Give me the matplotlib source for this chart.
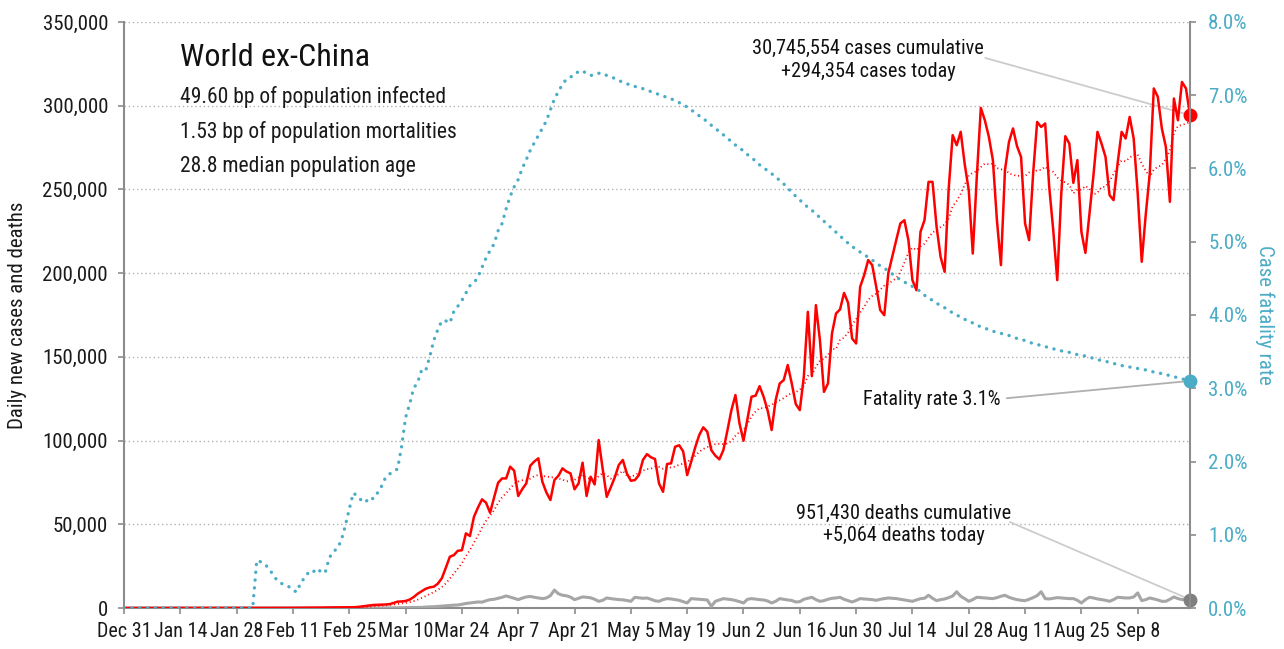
import pandas as pd
import matplotlib
matplotlib.use('Agg')
import matplotlib.pyplot as plt
from matplotlib.ticker import FuncFormatter, MultipleLocator

# narrow fonts first, whichever is installed gets used
plt.rcParams['font.family'] = ['Roboto Condensed', 'Liberation Sans Narrow', 'Roboto', 'DejaVu Sans']

# daily series, one value per day starting Dec 31
start_date = '2019-12-31'

daily_cases = [
    0, 0, 0, 0, 0, 0, 0, 0, 0, 0,
    0, 0, 0, 1, 1, 1, 1, 2, 2, 2,
    3, 4, 6, 10, 12, 15, 20, 25, 30, 35,
    40, 45, 50, 40, 35, 30, 30, 40, 50, 60,
    70, 80, 90, 100, 110, 120, 130, 150, 180, 220,
    280, 320, 350, 360, 380, 390, 400, 450, 600, 900,
    1200, 1500, 1800, 1900, 2000, 2100, 2300, 3000, 3800, 3900,
    4200, 5000, 6500, 8500, 10000, 11500, 12300, 12700, 14500, 17700,
    24000, 30600, 31600, 34200, 34500, 44600, 43000, 54500, 60000, 64900,
    62900, 56900, 66000, 74800, 77400, 77400, 84400, 82000, 66900, 71000,
    74400, 85000, 87500, 89400, 75400, 69000, 64500, 76400, 79000, 83400,
    81500, 80400, 70900, 74400, 86800, 66900, 78400, 73800, 100300, 83000,
    66400, 72000, 78000, 85400, 88400, 80400, 76000, 76400, 79400, 88400,
    91900, 90000, 89000, 74400, 69400, 86000, 86400, 96300, 97200, 93600,
    79400, 87400, 96000, 103300, 107900, 105300, 94300, 91000, 88800, 94300,
    106000, 118200, 127200, 110300, 99900, 113000, 126200, 126800, 132500, 126200,
    118000, 106300, 124200, 134100, 136100, 145100, 134100, 121800, 118200, 138100,
    176900, 138500, 180900, 160000, 129100, 134100, 164000, 175900, 178300, 188200,
    182300, 161000, 158000, 191800, 198800, 207800, 204800, 191800, 177900, 174900,
    200000, 210000, 220000, 229700, 231600, 219700, 195800, 189800, 224700, 231600,
    254500, 254500, 227700, 209700, 200800, 250000, 282400, 276400, 284400, 265000,
    249500, 211700, 257500, 298700, 291300, 281400, 267500, 231600, 204800, 261500,
    278400, 286400, 275800, 269400, 229700, 219700, 259500, 290300, 287300, 289400,
    251500, 225700, 195800, 247600, 281800, 277400, 253900, 267500, 224700, 212100,
    235000, 258500, 284400, 277400, 269400, 246600, 243600, 265500, 284400, 280400,
    293300, 280400, 247600, 206800, 235000, 259500, 310300, 305300, 286400, 275400,
    242600, 304300, 291300, 314200, 310300, 294354,
]

daily_deaths = [
    0, 0, 0, 0, 0, 0, 0, 0, 0, 0,
    0, 0, 0, 0, 0, 0, 0, 0, 0, 0,
    0, 0, 0, 0, 0, 0, 0, 0, 0, 0,
    0, 0, 0, 1, 0, 0, 0, 0, 0, 1,
    0, 1, 0, 1, 1, 2, 2, 3, 3, 4,
    4, 5, 6, 7, 8, 9, 10, 15, 12, 20,
    18, 25, 30, 40, 50, 60, 80, 100, 130, 180,
    200, 250, 330, 400, 380, 550, 700, 750, 950, 1100,
    1300, 1500, 1700, 1800, 2200, 2700, 3000, 3300, 3600, 3500,
    4300, 5000, 5200, 5800, 6400, 7200, 6500, 5800, 5000, 5900,
    6600, 6900, 6400, 6000, 5600, 6000, 7400, 10700, 8500, 7600,
    7300, 6500, 5000, 5800, 6600, 6400, 6100, 5200, 4000, 4600,
    6000, 5600, 5300, 5000, 4900, 4500, 4000, 6400, 6100, 5800,
    6000, 5200, 4300, 4000, 5000, 5600, 5400, 5000, 4600, 3800,
    3000, 5600, 5400, 5200, 5000, 4800, 1000, 4000, 4800, 5600,
    5300, 5000, 4500, 3800, 3000, 5200, 5600, 5300, 5000, 4800,
    4200, 3000, 4000, 5600, 5200, 4800, 4500, 3600, 3800, 5200,
    5800, 6400, 5000, 4000, 4400, 5200, 5800, 6000, 6400, 5200,
    4400, 3600, 4500, 5600, 5400, 5200, 5000, 4600, 5200, 5600,
    6000, 5800, 5600, 5200, 4800, 4400, 4000, 4800, 5600, 5800,
    7600, 5800, 4400, 5000, 5400, 6200, 7200, 9700, 7000, 5600,
    4000, 5000, 6400, 6200, 6000, 5800, 5600, 6200, 7000, 7600,
    6400, 5600, 5000, 4600, 4400, 5200, 6200, 7400, 9700, 5600,
    5400, 5800, 6200, 6000, 5800, 5600, 5600, 4600, 3000, 5000,
    6400, 6000, 5400, 5000, 4600, 4000, 5000, 6400, 6200, 6000,
    6000, 6600, 9000, 4400, 5000, 6000, 5400, 4800, 4000, 4000,
    5200, 6600, 5600, 5000, 5200, 5064,
]

# case fatality rate, percent
fatality_rate = [
    0, 0, 0, 0, 0, 0, 0, 0, 0, 0,
    0, 0, 0, 0, 0, 0, 0, 0, 0, 0,
    0, 0, 0, 0, 0, 0, 0, 0, 0, 0,
    0, 0, 0, 0.65, 0.63, 0.60, 0.54, 0.46, 0.38, 0.34,
    0.31, 0.29, 0.24, 0.22, 0.36, 0.41, 0.50, 0.49, 0.54, 0.49,
    0.48, 0.68, 0.77, 0.81, 0.92, 1.12, 1.35, 1.57, 1.53, 1.47,
    1.44, 1.51, 1.49, 1.57, 1.66, 1.78, 1.83, 1.86, 1.90, 2.20,
    2.60, 2.78, 3.00, 3.08, 3.25, 3.24, 3.43, 3.65, 3.80, 3.92,
    3.92, 3.89, 4.05, 4.12, 4.20, 4.30, 4.40, 4.44, 4.52, 4.65,
    4.78, 4.88, 4.97, 5.15, 5.25, 5.45, 5.62, 5.75, 5.85, 6.00,
    6.12, 6.25, 6.35, 6.45, 6.55, 6.65, 6.80, 6.95, 7.05, 7.15,
    7.22, 7.25, 7.27, 7.33, 7.33, 7.30, 7.27, 7.28, 7.30, 7.30,
    7.27, 7.25, 7.23, 7.20, 7.18, 7.16, 7.13, 7.12, 7.11, 7.09,
    7.07, 7.05, 7.03, 7.01, 6.99, 6.97, 6.95, 6.93, 6.90, 6.87,
    6.84, 6.80, 6.76, 6.72, 6.68, 6.64, 6.59, 6.55, 6.50, 6.46,
    6.41, 6.37, 6.32, 6.28, 6.24, 6.19, 6.15, 6.10, 6.05, 6.01,
    5.97, 5.93, 5.88, 5.84, 5.79, 5.73, 5.68, 5.62, 5.57, 5.52,
    5.47, 5.43, 5.38, 5.33, 5.28, 5.23, 5.18, 5.13, 5.08, 5.03,
    4.98, 4.94, 4.89, 4.86, 4.82, 4.79, 4.75, 4.71, 4.67, 4.64,
    4.60, 4.56, 4.52, 4.48, 4.45, 4.42, 4.39, 4.36, 4.32, 4.27,
    4.23, 4.20, 4.16, 4.13, 4.10, 4.06, 4.03, 4.00, 3.97, 3.94,
    3.92, 3.89, 3.86, 3.84, 3.82, 3.80, 3.78, 3.76, 3.75, 3.73,
    3.72, 3.70, 3.68, 3.67, 3.65, 3.63, 3.61, 3.60, 3.58, 3.57,
    3.55, 3.54, 3.52, 3.51, 3.50, 3.49, 3.47, 3.46, 3.45, 3.44,
    3.42, 3.41, 3.39, 3.38, 3.37, 3.35, 3.34, 3.32, 3.31, 3.30,
    3.29, 3.28, 3.27, 3.26, 3.25, 3.24, 3.22, 3.21, 3.20, 3.19,
    3.17, 3.16, 3.14, 3.13, 3.11, 3.10,
]

title_text = 'World ex-China'
info_lines = ['49.60 bp of population infected',
              '1.53 bp of population mortalities',
              '28.8 median population age']
cases_note = '30,745,554 cases cumulative\n+294,354 cases today'
deaths_note = '951,430 deaths cumulative\n+5,064 deaths today'
rate_note = 'Fatality rate 3.1%'

RED = '#ff0000'
GREY = '#a6a6a6'
BLUE = '#4bacc6'
AXIS = '#8c8c8c'
INK = '#1a1a1a'
FS = 15

dates = pd.date_range(start_date, periods=len(daily_cases), freq='D')
cases = pd.Series(daily_cases, index=dates)
deaths = pd.Series(daily_deaths, index=dates)
cfr = pd.Series(fatality_rate, index=dates)
avg7 = cases.rolling(7, min_periods=1).mean()

fig = plt.figure(figsize=(12.84, 6.49), dpi=100)
ax = fig.add_axes([124 / 1284, 41 / 649, 1066 / 1284, 586 / 649])
ax2 = ax.twinx()

# left axis: cases and deaths
ax.plot(dates, deaths, color=GREY, lw=2.2, zorder=3)
ax.plot(dates, avg7, color=RED, lw=1.3, dashes=(0.6, 1.6), zorder=4)
ax.plot(dates, cases, color=RED, lw=1.8, zorder=5)
ax.plot(dates[-1], cases.iloc[-1], 'o', color=RED, ms=9, clip_on=False, zorder=6)
ax.plot(dates[-1], deaths.iloc[-1], 'o', color='#7f7f7f', ms=9, clip_on=False, zorder=6)

# right axis: fatality rate
ax2.plot(dates, cfr, color=BLUE, lw=2.4, dashes=(0.05, 2.3),
         dash_capstyle='round', zorder=3)
ax2.plot(dates[-1], cfr.iloc[-1], 'o', color=BLUE, ms=9, clip_on=False, zorder=6)

ax.set_xlim(dates[0], dates[-1])
ax.set_ylim(0, 350000)
ax2.set_ylim(0, 8)

ax.yaxis.set_major_locator(MultipleLocator(50000))
ax.yaxis.set_major_formatter(FuncFormatter(lambda v, p: f'{int(v):,}'))
ax2.yaxis.set_major_locator(MultipleLocator(1))
ax2.yaxis.set_major_formatter(FuncFormatter(lambda v, p: f'{v:.1f}%'))

xticks = pd.date_range(start_date, '2020-09-08', freq='14D')
ax.set_xticks(xticks)
ax.set_xticklabels([f'{d:%b} {d.day}' for d in xticks])

ax.yaxis.grid(True, color='#b0b0b0', lw=1, linestyle=(0, (1, 2)))
ax.set_axisbelow(True)

for a in (ax, ax2):
    a.spines['top'].set_visible(False)
    for s in ('left', 'right', 'bottom'):
        a.spines[s].set_color(AXIS)
        a.spines[s].set_linewidth(1.5)
ax.spines['right'].set_visible(False)
ax2.spines['left'].set_visible(False)
ax2.spines['bottom'].set_visible(False)

ax.tick_params(axis='y', colors=AXIS, labelcolor=INK, labelsize=FS, length=4, width=1.2, pad=7.5)
ax.tick_params(axis='x', colors=AXIS, labelcolor=INK, labelsize=14.5, length=4, width=1.2, pad=6)
ax2.tick_params(axis='y', colors=AXIS, labelcolor=BLUE, labelsize=FS, length=4, width=1.2, pad=9)

ax.set_ylabel('Daily new cases and deaths', fontsize=FS, color=INK)
ax.yaxis.set_label_coords(-0.091, 0.5)
ax2.set_ylabel('Case fatality rate', fontsize=FS, color=BLUE, rotation=270)
ax2.yaxis.set_label_coords(1.079, 0.5)

# headline block
ax.text(0.0525, 0.94, title_text, transform=ax.transAxes, fontsize=23,
        ha='left', va='center', color='#111111')
for i, line in enumerate(info_lines):
    ax.text(0.0525, 0.872 - i * 0.059, line, transform=ax.transAxes, fontsize=15.5,
            ha='left', va='center', color=INK)

# callouts
ax.text(0.698, 0.935, cases_note, transform=ax.transAxes, fontsize=14.6,
        ha='center', va='center', linespacing=1.25, color='#111111')
ax.annotate('', xy=(dates[-1], cases.iloc[-1]), xytext=(0.808, 0.9386),
            textcoords='axes fraction',
            arrowprops=dict(arrowstyle='-', color='#cccccc', lw=1.3, shrinkA=0, shrinkB=0))

ax.text(0.7317, 0.1433, deaths_note, transform=ax.transAxes, fontsize=14.6,
        ha='center', va='center', linespacing=1.2, color='#111111')
ax.annotate('', xy=(dates[-1], deaths.iloc[-1]), xytext=(0.831, 0.1468),
            textcoords='axes fraction',
            arrowprops=dict(arrowstyle='-', color='#cccccc', lw=1.3, shrinkA=0, shrinkB=0))

ax2.text(0.8227, 0.355, rate_note, transform=ax2.transAxes, fontsize=14.6,
         ha='right', va='center', color='#111111')
ax2.annotate('', xy=(dates[-1], cfr.iloc[-1]), xytext=(0.828, 0.358),
             textcoords='axes fraction',
             arrowprops=dict(arrowstyle='-', color='#b0b0b0', lw=1.3, shrinkA=0, shrinkB=0))

fig.savefig('out.png', dpi=100)
